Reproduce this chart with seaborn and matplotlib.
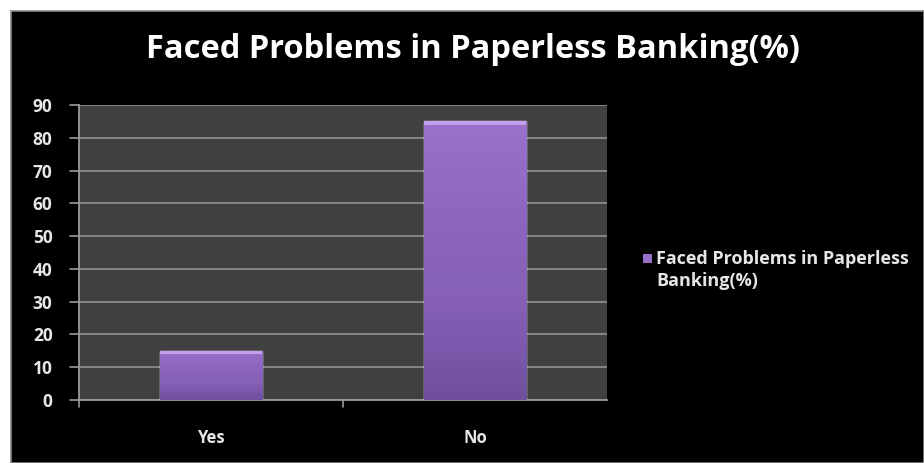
import matplotlib
matplotlib.use("Agg")
import matplotlib.pyplot as plt
import seaborn as sns
import numpy as np
import pandas as pd
from matplotlib.patches import Rectangle
from matplotlib.colors import LinearSegmentedColormap

categories = ["Yes", "No"]
values = [15, 85]
series_name = "Faced Problems in Paperless Banking(%)"
title_text = "Faced Problems in Paperless Banking(%)"
legend_text = "Faced Problems in Paperless\nBanking(%)"
yticks = [0, 10, 20, 30, 40, 50, 60, 70, 80, 90]

df = pd.DataFrame({"Answer": categories, "Percent": values})

sns.set_theme(style="dark")
plt.rcParams['font.family'] = ['Open Sans', 'DejaVu Sans']

W, H = 924, 463
fig = plt.figure(figsize=(W / 100, H / 100), dpi=100)
fig.patch.set_facecolor("white")
fig.add_artist(Rectangle((11 / W, 0), 1 - 11 / W, 1 - 11 / H, transform=fig.transFigure,
                         facecolor="black", edgecolor="#8a8a8a", linewidth=1.2, zorder=0))

ax = fig.add_axes([79 / W, (H - 400) / H, (607 - 79) / W, (400 - 105) / H])
ax.set_facecolor("#404040")

sns.barplot(data=df, x="Answer", y="Percent", ax=ax, color="#8660b8", width=0.39,
            saturation=1, zorder=3, legend=False)
if ax.get_legend() is not None:
    ax.get_legend().remove()

# subtle gradient fill clipped to each bar
grad = np.linspace(0, 1, 256).reshape(-1, 1)
cmap = LinearSegmentedColormap.from_list("pg", ["#6f4f9e", "#8560b6", "#8d66bf", "#9a72cc"])
for p in list(ax.patches):
    x0, y0 = p.get_x(), p.get_y()
    w, h = p.get_width(), p.get_height()
    im = ax.imshow(grad, extent=[x0, x0 + w, y0, y0 + h], origin="lower", cmap=cmap,
                   aspect="auto", zorder=4, interpolation="bilinear")
    im.set_clip_path(p)
    ax.add_patch(Rectangle((x0, y0 + h - 1.0), w, 1.0, facecolor="#c3a0ee", edgecolor="none", zorder=5))

ax.set_xlim(-0.5, 1.5)
ax.set_ylim(0, 90)
ax.set_yticks(yticks)
ax.set_yticklabels([str(v) for v in yticks], fontsize=12.5, fontweight="bold", color="#e6e6e6")
ax.set_xticks([0, 1])
ax.set_xticklabels(categories, fontsize=12, fontweight="bold", color="#e6e6e6")
ax.tick_params(axis="x", length=0, pad=21)
ax.tick_params(axis="y", length=0, pad=19)
for xb in [-0.5, 0.5]:
    ax.plot([xb, xb], [0, -2], color="#9a9a9a", lw=1.2, clip_on=False, zorder=6)
for yv in yticks:
    ax.plot([-0.5, -0.535], [yv, yv], color="#9a9a9a", lw=1.2, clip_on=False, zorder=6)

ax.set_xlabel("")
ax.set_ylabel("")
ax.grid(axis="y", color="#8c8c8c", linewidth=1.3, zorder=1)
ax.grid(axis="x", visible=False)
ax.set_axisbelow(True)
for s in ["top", "right"]:
    ax.spines[s].set_visible(False)
for s in ["left", "bottom"]:
    ax.spines[s].set_visible(True)
    ax.spines[s].set_color("#9a9a9a")
    ax.spines[s].set_linewidth(1.3)

fig.text(473 / W, 1 - 50 / H, title_text, ha="center", va="center", fontsize=23.5,
         fontweight="bold", color="white")

# legend
fig.add_artist(Rectangle((643 / W, 1 - 263 / H), 9 / W, 9 / H, transform=fig.transFigure,
                         facecolor="#9670c8", edgecolor="none"))
fig.text(656 / W, 1 - 270 / H, legend_text, ha="left", va="center",
         fontsize=13, fontweight="bold", color="#e6e6e6", linespacing=1.25)

fig.savefig("out.png", dpi=100, facecolor=fig.get_facecolor())
